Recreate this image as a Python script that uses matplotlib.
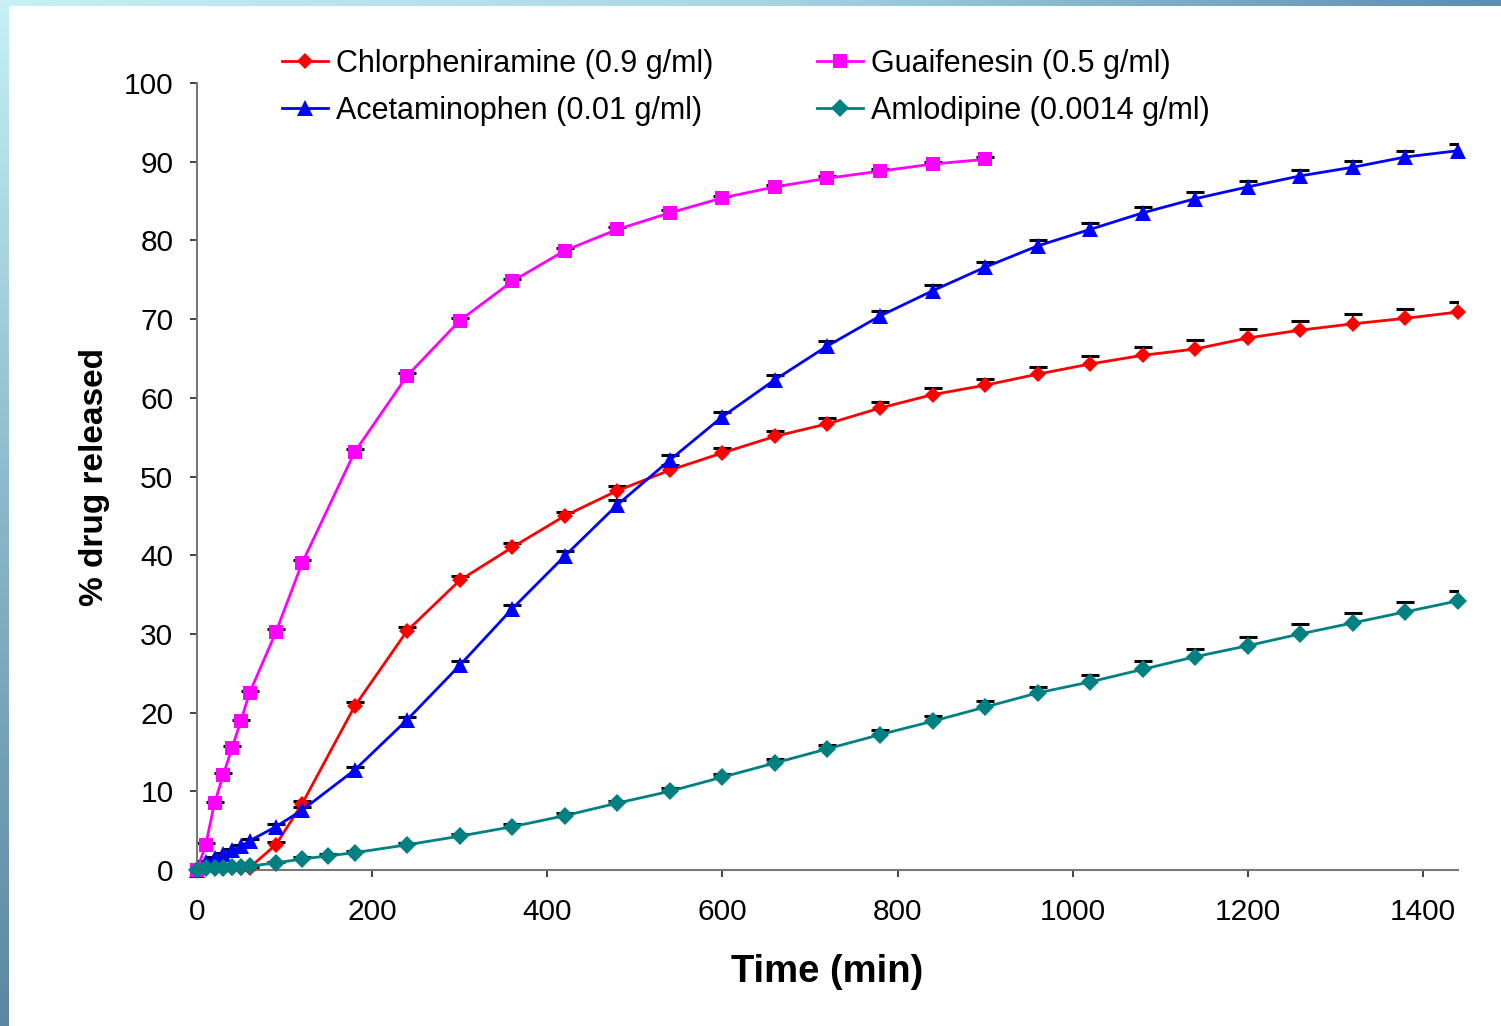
import numpy as np
from matplotlib import pyplot as plt
from matplotlib.colors import LinearSegmentedColormap

plt.rcParams['font.family'] = ['Liberation Sans', 'DejaVu Sans']

# time points (min)
t_guai = [0, 10, 20, 30, 40, 50, 60, 90, 120, 180, 240, 300, 360, 420, 480,
          540, 600, 660, 720, 780, 840, 900]
t_full = [0, 10, 20, 30, 40, 50, 60, 90, 120, 180, 240, 300, 360, 420, 480,
          540, 600, 660, 720, 780, 840, 900, 960, 1020, 1080, 1140, 1200,
          1260, 1320, 1380, 1440]
t_amlo = [0, 10, 20, 30, 40, 50, 60, 90, 120, 150, 180, 240, 300, 360, 420,
          480, 540, 600, 660, 720, 780, 840, 900, 960, 1020, 1080, 1140, 1200,
          1260, 1320, 1380, 1440]

chlor = [0, 0.3, 0.4, 0.4, 0.3, 0.3, 0.3, 3.2, 8.4, 20.8, 30.4, 36.8, 41.0,
         45.0, 48.2, 50.8, 53.0, 55.1, 56.7, 58.7, 60.4, 61.6, 63.0, 64.3,
         65.4, 66.2, 67.6, 68.6, 69.4, 70.1, 70.9]
chlor_err = [0, 0.1, 0.1, 0.1, 0.1, 0.1, 0.1, 0.3, 0.4, 0.5, 0.5, 0.5, 0.5,
             0.5, 0.6, 0.6, 0.6, 0.7, 0.7, 0.8, 0.8, 0.8, 0.9, 1.0, 1.0,
             1.1, 1.1, 1.2, 1.2, 1.2, 1.3]

guai = [0, 3.2, 8.5, 12.1, 15.5, 18.9, 22.5, 30.2, 39.0, 53.1, 62.8, 69.8,
        74.8, 78.7, 81.4, 83.5, 85.4, 86.8, 87.9, 88.8, 89.7, 90.3]
guai_err = [0, 0.2, 0.2, 0.2, 0.2, 0.2, 0.2, 0.4, 0.4, 0.4, 0.4, 0.4, 0.3,
            0.3, 0.3, 0.3, 0.3, 0.3, 0.3, 0.3, 0.3, 0.3]

acet = [0, 1.0, 1.5, 2.0, 2.5, 3.0, 3.7, 5.5, 7.6, 12.7, 19.1, 26.0, 33.2,
        39.9, 46.4, 52.1, 57.6, 62.3, 66.6, 70.4, 73.6, 76.6, 79.3, 81.4,
        83.5, 85.3, 86.8, 88.2, 89.3, 90.6, 91.4]
acet_err = [0, 0.2, 0.2, 0.2, 0.2, 0.2, 0.2, 0.3, 0.4, 0.4, 0.4, 0.5, 0.5,
            0.6, 0.6, 0.6, 0.6, 0.6, 0.6, 0.6, 0.7, 0.7, 0.7, 0.8, 0.8,
            0.8, 0.8, 0.8, 0.8, 0.8, 0.8]

amlo = [0, 0.2, 0.3, 0.3, 0.4, 0.4, 0.5, 0.9, 1.4, 1.8, 2.2, 3.2, 4.3, 5.5,
        6.9, 8.5, 10.0, 11.8, 13.6, 15.4, 17.2, 18.9, 20.7, 22.5, 23.9, 25.5,
        27.1, 28.5, 30.0, 31.4, 32.8, 34.2]
amlo_err = [0, 0.1, 0.1, 0.1, 0.1, 0.1, 0.1, 0.1, 0.2, 0.2, 0.2, 0.2, 0.3,
            0.3, 0.3, 0.3, 0.4, 0.4, 0.5, 0.5, 0.6, 0.7, 0.8, 0.8, 0.9, 1.0,
            1.0, 1.1, 1.2, 1.2, 1.3, 1.3]

fig = plt.figure(figsize=(15.01, 10.26), dpi=100)

# gradient frame on the top and left edges
grad = np.linspace(0, 1, 256)[None, :]
top = fig.add_axes([0, 1 - 6 / 1026, 1, 6 / 1026])
cm_top = LinearSegmentedColormap.from_list('top', ['#c6eff6', '#a9d6e4', '#5b8db5'])
top.imshow(grad, aspect='auto', cmap=cm_top, extent=[0, 1, 0, 1])
top.set_axis_off()
left = fig.add_axes([0, 0, 9 / 1501, 1])
cm_left = LinearSegmentedColormap.from_list('left', ['#5c87a2', '#8ab7c8', '#c6eff6'])
left.imshow(grad.T, aspect='auto', cmap=cm_left, extent=[0, 1, 0, 1], origin='lower')
left.set_axis_off()

ax = fig.add_axes([197 / 1501, 1 - 870 / 1026, 1261 / 1501, 787 / 1026])

series = [
    (t_full, chlor, chlor_err, '#ff0000', 'D', 8, 'Chlorpheniramine (0.9 g/ml)'),
    (t_full, acet, acet_err, '#0000ff', '^', 11, 'Acetaminophen (0.01 g/ml)'),
    (t_guai, guai, guai_err, '#ff00ff', 's', 10, 'Guaifenesin (0.5 g/ml)'),
    (t_amlo, amlo, amlo_err, '#008080', 'D', 9, 'Amlodipine (0.0014 g/ml)'),
]

for t, y, e, c, m, ms, lab in series:
    y = np.array(y)
    e = np.array(e)
    # upper error bars only
    ax.vlines(t, y, y + e, color='black', linewidth=1.5, zorder=2)
    ax.plot(t, y + e, linestyle='none', marker='_', markersize=13,
            markeredgewidth=2.2, color='black', zorder=2)
    ax.plot(t, y, color=c, marker=m, markersize=ms, linewidth=2,
            markeredgewidth=0, label=lab, zorder=3, clip_on=False)

ax.set_xlim(0, 1440)
ax.set_ylim(0, 100)
ax.set_xticks(range(0, 1401, 200))
ax.set_yticks(range(0, 101, 10))
ax.tick_params(labelsize=21.5, length=5, width=1.3, color='#333333')
ax.tick_params(axis='x', pad=15)
ax.tick_params(axis='y', pad=12)
for s in ['top', 'right']:
    ax.spines[s].set_visible(False)
for s in ['left', 'bottom']:
    ax.spines[s].set_color('#777777')
    ax.spines[s].set_linewidth(1.5)

ax.set_xlabel('Time (min)', fontsize=27.5, fontweight='bold', labelpad=20)
ax.set_ylabel('% drug released', fontsize=24, fontweight='bold', labelpad=10)

ax.legend(ncol=2, loc='upper left', bbox_to_anchor=(0.058, 1.059), frameon=False,
          fontsize=22, handlelength=1.5, handletextpad=0.25, columnspacing=3.4,
          labelspacing=0.55, borderaxespad=0)

fig.savefig('out.png', dpi=100)
